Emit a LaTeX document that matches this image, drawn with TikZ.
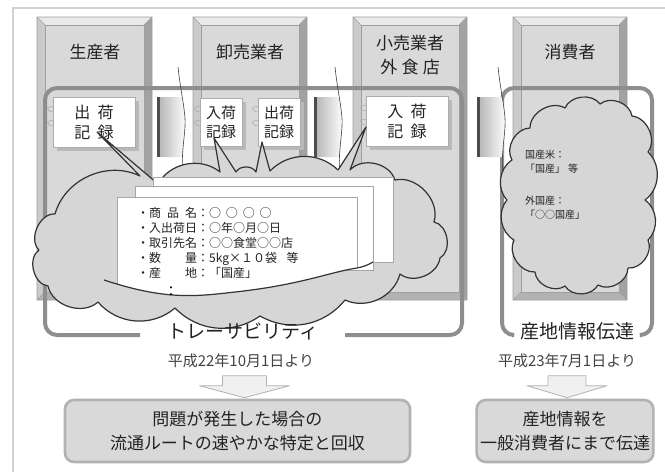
\documentclass[tikz,border=0pt]{standalone}
\usepackage{fontspec}
\setmainfont{Noto Sans CJK JP}
\usetikzlibrary{calc,shadows}
\definecolor{panelIn}{HTML}{D9D9D9}
\definecolor{bevTop}{HTML}{E9E9E9}
\definecolor{bevLeft}{HTML}{CACACA}
\definecolor{bevRight}{HTML}{A2A2A2}
\definecolor{bevBot}{HTML}{B2B2B2}
\definecolor{cloudfill}{HTML}{D6D6D6}
\definecolor{frameg}{HTML}{8E8E8E}
\definecolor{ink}{HTML}{222222}
\newcommand\bevpanel[4]{%
  \fill[bevTop] (#1,#2) -- (#3,#2) -- ({#3-8},{#2+8}) -- ({#1+8},{#2+8}) -- cycle;
  \fill[bevLeft] (#1,#2) -- ({#1+8},{#2+8}) -- ({#1+8},{#4-8}) -- (#1,#4) -- cycle;
  \fill[bevRight] (#3,#2) -- (#3,#4) -- ({#3-8},{#4-8}) -- ({#3-8},{#2+8}) -- cycle;
  \fill[bevBot] (#1,#4) -- (#3,#4) -- ({#3-8},{#4-8}) -- ({#1+8},{#4-8}) -- cycle;
  \filldraw[fill=panelIn, draw=gray!75, line width=0.5pt] ({#1+8},{#2+8}) rectangle ({#3-8},{#4-8});
  \draw[gray!75, line width=0.6pt] (#1,#2) rectangle (#3,#4)
     (#1,#2) -- ({#1+8},{#2+8}) (#3,#2) -- ({#3-8},{#2+8})
     (#1,#4) -- ({#1+8},{#4-8}) (#3,#4) -- ({#3-8},{#4-8});
}
\newcommand\tabarrow[1]{%
  \begin{scope}[shift={(#1,0)}]
    \shade[left color=gray!55, right color=white] (160,97) -- (182,97)
      .. controls (185,110) and (186,118) .. (185,127)
      .. controls (184,140) and (183,150) .. (183,157) -- (160,157) -- cycle;
    \fill[black!70] (157,97) rectangle (160,157);
    \draw[black!75, line width=0.6pt] (178,67) .. controls (181,95) and (186,112) .. (185,127)
      .. controls (184,142) and (181,158) .. (183,172);
  \end{scope}}
\newcommand\rings[2]{%
  \draw[gray!70, line width=0.5pt] ({#1+5},{#2-3}) .. controls ({#1-3},{#2-5}) and ({#1-4},{#2+1}) .. ({#1+4},{#2+2});
  \draw[gray!70, line width=0.5pt] ({#1+5},{#2+11}) .. controls ({#1-3},{#2+9}) and ({#1-4},{#2+15}) .. ({#1+4},{#2+16});
}
\tikzset{
  lab/.style={font=\fontsize{17}{24}\selectfont, text=ink, align=center},
  frm/.style={draw=frameg, line width=4pt, rounded corners=12pt},
  cloudst/.style={fill=cloudfill, draw=black!80, line width=1.2pt, line join=round},
  cloudline/.style={draw=black!80, line width=1.2pt},
  paper/.style={fill=white, draw=gray!70, line width=0.8pt},
  card/.style={fill=white, draw=gray!65, line width=0.6pt, inner sep=0pt, align=center, text=ink,
     drop shadow={shadow xshift=4pt, shadow yshift=-4pt, fill=gray!55, opacity=1}},
  bigcard/.style={card, minimum width=82pt, minimum height=50pt, font=\fontsize{16}{20}\selectfont},
  smallcard/.style={card, minimum width=42pt, minimum height=48pt, font=\fontsize{15}{19}\selectfont},
  ptext/.style={font=\fontsize{12}{15}\selectfont, text=ink, align=left, inner sep=0pt},
  ctext/.style={font=\fontsize{10}{14}\selectfont, text=ink, align=left, inner sep=0pt},
  bigt/.style={font=\fontsize{19}{22}\selectfont, text=ink},
  datet/.style={font=\fontsize{15}{18}\selectfont, text=ink!85},
  resbox/.style={rounded corners=9pt, fill=panelIn, draw=gray!60, line width=2.6pt, align=center,
     font=\fontsize{17}{24}\selectfont, text=ink},
  barrow/.style={fill=gray!12, draw=gray!60, line width=0.8pt, line join=round},
}
\begin{document}
\begin{tikzpicture}[x=1pt,y=-1pt]
\useasboundingbox (0,0) rectangle (665,472);
\fill[white] (0,0) rectangle (665,472);
% outer frame
\draw[gray!35, line width=1.4pt] (13,472) -- (13,8) -- (665,8);
% columns
\bevpanel{37}{17}{152}{300}
\bevpanel{193}{17}{307}{300}
\bevpanel{353}{17}{467}{300}
\bevpanel{513}{17}{627}{300}
\node[lab] (l1) at (95,52) {生産者};
\node[lab] (l2) at (250,52) {卸売業者};
\node[lab] (l3) at (410,55) {小売業者\\外\hspace{0.25em}食\hspace{0.25em}店};
\node[lab] (l4) at (570,52) {消費者};
% frames
\draw[frm] (140,335) -- (45,335) -- (45,88) -- (462,88) -- (462,335) -- (345,335);
\draw[frm] (512,335) -- (502,335) -- (502,88) -- (652,88) -- (652,335) -- (642,335);
% tabs
\tabarrow{0}
\tabarrow{157}
\tabarrow{320}
% cards
\node[bigcard] (c1) at (94,122) {出\hspace{0.45em}荷\\記\hspace{0.45em}録};
\node[smallcard] (c2) at (221,122) {入荷\\記録};
\node[smallcard] (c3) at (279,122) {出荷\\記録};
\node[bigcard] (c4) at (407,121) {入\hspace{0.45em}荷\\記\hspace{0.45em}録};
\rings{49}{110}
\rings{196}{110}
\rings{254}{110}
\rings{362}{109}
% big cloud with callouts
\path[cloudst] (48,286) to[bend left=70] (39,250) to[bend left=70] (55,214)
  to[bend left=50] (140,176) -- (97,132) -- (158,184)
  to[bend left=50] (220,172) -- (214,138) -- (236,172)
  to[bend left=60] (256,172) -- (262,142) -- (270,171)
  to[bend left=45] (338,170) -- (366,127) -- (350,170)
  to[bend left=60] (395,180) to[bend left=60] (434,222) to[bend left=70] (440,258)
  to[bend left=60] (400,274) to[bend left=50] (345,300) to[bend left=40] (260,316)
  to[bend left=40] (175,308) to[bend left=45] (98,302) to[bend left=60] cycle;
% papers
\filldraw[paper] (153,177) rectangle (393,262);
\filldraw[paper] (135,186) rectangle (373,270);
\fill[white] (117,197) -- (357,197) -- (357,268) .. controls (330,272) and (300,285) .. (235,292)
   .. controls (200,296) and (170,300) .. (117,284) -- cycle;
\draw[gray!70, line width=0.8pt] (117,284) -- (117,197) -- (357,197) -- (357,268);
\draw[cloudline] (104,280) .. controls (110,282) and (113,283) .. (117,284)
   .. controls (170,300) and (200,296) .. (235,292) .. controls (300,285) and (330,272) .. (357,268)
   .. controls (363,267) and (368,265) .. (373,262);
\node[ptext, anchor=north west] (pt) at (137,207) {%
・商\hspace{0.5em}品\hspace{0.5em}名：○\hspace{0.4em}○\hspace{0.4em}○\hspace{0.4em}○\\
・入出荷日：○年○月○日\\
・取引先名：○○食堂○○店\\
・数\hspace{2em}量：5kg×１０袋\hspace{0.8em}等\\
・産\hspace{2em}地：「国産」};
\node[font=\fontsize{14}{14}\selectfont, inner sep=0pt] (dots) at (171,292) {：};
% consumer cloud
\path[cloudst] (530,128) to[bend left=60] (565,108) to[bend left=60] (600,104)
  to[bend left=60] (632,116) to[bend left=60] (648,152) to[bend left=50] (645,200)
  to[bend left=50] (648,240) to[bend left=60] (628,268) to[bend left=60] (598,285)
  to[bend left=60] (565,286) to[bend left=60] (535,272) to[bend left=60] (514,240)
  to[bend left=50] (507,200) to[bend left=50] (512,160) to[bend left=60] cycle;
\node[ctext, anchor=west] (k1) at (525,162) {国産米：\\「国産」\hspace{0.3em}等};
\node[ctext, anchor=west] (k2) at (525,208) {外国産：\\「○○国産」};
% bottom labels
\node[bigt] (tr) at (243,331) {トレーサビリティ};
\node[bigt] (sj) at (577,331) {産地情報伝達};
\node[datet] (d1) at (241,361) {平成22年10月1日より};
\node[datet] (d2) at (567,361) {平成23年7月1日より};
% result boxes
\node[resbox, minimum width=345pt, minimum height=62pt] (b1) at (237.5,431) {問題が発生した場合の\\流通ルートの速やかな特定と回収};
\node[resbox, minimum width=174pt, minimum height=62pt] (b2) at (565,431) {産地情報を\\一般消費者にまで伝達};
% block arrows from dates to boxes
\path (b1.north) ++(7,-1) coordinate (t1);
\filldraw[barrow] (t1) -- ++(-45,-12) -- ++(23,0) -- ++(0,-10) -- ++(44,0) -- ++(0,10) -- ++(23,0) -- cycle;
\path (b2.north) ++(2,-1) coordinate (t2);
\filldraw[barrow] (t2) -- ++(-40,-12) -- ++(21,0) -- ++(0,-10) -- ++(38,0) -- ++(0,10) -- ++(21,0) -- cycle;
\end{tikzpicture}
\end{document}
